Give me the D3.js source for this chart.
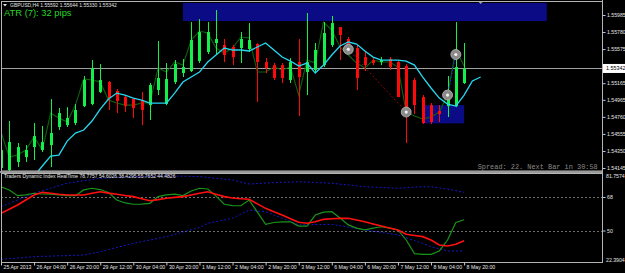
<!DOCTYPE html>
<html><head><meta charset="utf-8">
<script src="https://cdn.jsdelivr.net/npm/d3@7"></script>
<style>html,body{margin:0;padding:0;background:#000;overflow:hidden}svg{display:block}</style>
</head><body><svg id="c" width="625" height="273"></svg>
<script>
// ---------- data ----------
const timeLabels = ["25 Apr 2013","26 Apr 04:00","26 Apr 20:00","29 Apr 12:00","30 Apr 04:00","30 Apr 20:00","1 May 12:00","2 May 04:00","2 May 20:00","3 May 12:00","6 May 04:00","6 May 20:00","7 May 12:00","8 May 04:00","8 May 20:00"];
const openP  = [1.54144,1.54120,1.54217,1.54277,1.54397,1.54361,1.54421,1.54638,1.54661,1.54686,1.54889,1.54914,1.55058,1.55179,1.55071,1.54998,1.54974,1.54962,1.54901,1.55083,1.54914,1.55179,1.55287,1.55311,1.55431,1.55540,1.55648,1.55624,1.55600,1.55588,1.55576,1.55636,1.55419,1.55383,1.55383,1.55203,1.55419,1.55299,1.55324,1.55383,1.55624,1.55840,1.55696,1.55588,1.55479,1.55443,1.55419,1.55455,1.55419,1.55371,1.55203,1.54998,1.54901,1.54830,1.54889,1.54889,1.55167];
const highP  = [1.54421,1.54710,1.54445,1.54421,1.54686,1.54650,1.54974,1.54866,1.54877,1.54914,1.55251,1.55443,1.55395,1.55191,1.55095,1.55022,1.54986,1.55058,1.55167,1.55672,1.55407,1.55443,1.55455,1.55900,1.55936,1.55900,1.56045,1.55696,1.55624,1.55780,1.55888,1.55648,1.55467,1.55407,1.55407,1.55467,1.55696,1.56009,1.55648,1.55900,1.55973,1.55840,1.55720,1.55624,1.55540,1.55467,1.55479,1.55479,1.55431,1.55395,1.55227,1.55022,1.54926,1.54901,1.55251,1.55900,1.55648];
const lowP   = [1.54108,1.54108,1.54157,1.54217,1.54241,1.54337,1.54157,1.54602,1.54638,1.54661,1.54877,1.54901,1.55046,1.54842,1.54806,1.54818,1.54746,1.54661,1.54722,1.55022,1.54901,1.55155,1.55239,1.55299,1.55407,1.55516,1.55504,1.55419,1.55383,1.55407,1.55540,1.54938,1.55287,1.55203,1.55167,1.55167,1.54770,1.55022,1.55287,1.55359,1.55600,1.55443,1.55528,1.55083,1.55311,1.55383,1.55383,1.55324,1.54998,1.54445,1.54794,1.54674,1.54674,1.54698,1.54758,1.54877,1.55155];
const closeP = [1.54361,1.54457,1.54397,1.54361,1.54529,1.54457,1.54565,1.54806,1.54746,1.54842,1.55203,1.55347,1.55203,1.54986,1.54950,1.54889,1.54866,1.54842,1.55143,1.55227,1.55215,1.55395,1.55359,1.55684,1.55780,1.55780,1.55696,1.55504,1.55479,1.55696,1.55684,1.55419,1.55347,1.55227,1.55227,1.55419,1.55239,1.55419,1.55564,1.55768,1.55888,1.55744,1.55564,1.55227,1.55383,1.55407,1.55443,1.55359,1.54998,1.54806,1.54901,1.54686,1.54698,1.54794,1.55010,1.55359,1.55342];
const darkLine = [1.54577,1.54277,1.54301,1.54361,1.54517,1.54361,1.54806,1.54746,1.54698,1.54901,1.55215,1.55203,1.55179,1.54962,1.54926,1.54901,1.54901,1.54926,1.54926,1.55347,1.55299,1.55419,1.55383,1.55684,1.55792,1.55768,1.55588,1.55528,1.55588,1.55720,1.55708,1.55299,1.55299,1.55359,1.55324,1.55359,1.55022,1.55443,1.55407,1.55900,1.55804,1.55600,1.55504,1.55407,1.55347,1.55443,1.55419,1.55419,1.55359,1.54818,1.54770,1.54734,1.54758,1.54818,1.55022,1.55564,1.55371];
const maStart = 4;
const maCyan = [1.54048,1.54169,1.54289,1.54301,1.54469,1.54565,1.54602,1.54710,1.54854,1.54974,1.55046,1.55022,1.54986,1.54962,1.54926,1.54926,1.54926,1.55046,1.55179,1.55239,1.55299,1.55419,1.55504,1.55588,1.55564,1.55564,1.55552,1.55600,1.55648,1.55564,1.55479,1.55431,1.55371,1.55407,1.55287,1.55383,1.55504,1.55612,1.55660,1.55636,1.55552,1.55479,1.55443,1.55443,1.55443,1.55431,1.55383,1.55239,1.55107,1.54986,1.54914,1.54889,1.55022,1.55191,1.55239];
const currentPrice = 1.55342;
const priceTicks = [1.55985,1.55780,1.55575,1.55165,1.54965,1.54760,1.54555,1.54350,1.54145];
const zoneFrom = [22, 51], zoneTo = [66, 56], zoneHi = [1.56129, 1.54901], zoneLo = [1.55912, 1.54682];
const markBar = [42, 49, 54, 55], markPrice = [1.55572, 1.54818, 1.55022, 1.55510];
// TDI
const tdiGreen = [73.5,71.8,68.7,69.1,70.0,69.6,69.5,69.1,68.7,68.7,71.8,72.7,72.0,70.4,66.4,64.8,64.1,64.2,64.6,68.2,69.1,69.5,68.8,71.2,72.7,72.3,68.5,64.1,63.4,63.3,66.4,59.9,53.3,54.3,54.6,54.7,52.4,52.4,58.3,59.9,60.1,56.7,53.0,51.3,50.3,51.3,52.0,51.3,50.3,44.9,37.6,37.2,37.2,39.0,44.9,54.3,55.77];
const tdiRed   = [59.2,61.4,63.7,66.4,69.1,70.5,70.0,69.5,69.1,69.1,69.1,70.0,70.8,70.1,69.5,68.8,68.2,67.1,66.0,66.6,67.3,67.8,68.2,69.1,70.0,70.8,69.5,68.2,67.5,67.1,66.8,64.3,61.9,60.1,58.3,56.3,54.4,53.9,54.7,56.0,56.3,56.5,56.6,55.6,54.7,53.5,52.4,51.3,50.3,48.0,47.3,46.7,44.9,42.2,41.7,42.6,44.48];
const tdiUpper = [62.8,64.6,66.4,68.2,70.0,71.4,72.7,74.1,75.4,76.1,76.7,77.4,78.0,78.2,78.5,78.7,78.9,79.0,79.1,79.2,79.3,79.2,79.2,79.1,79.0,78.5,78.0,77.6,77.1,76.0,75.0,75.2,75.5,75.7,75.9,76.0,76.2,76.0,75.8,75.6,75.4,74.9,74.5,74.0,73.5,73.3,73.1,72.9,72.7,73.0,73.3,73.5,73.5,72.9,72.3,71.4,70.5];
const tdiLower = [34.5,34.9,35.2,35.6,35.9,36.1,36.2,36.4,36.5,36.7,36.8,37.7,38.6,39.7,40.9,42.0,43.1,44.0,44.9,45.8,46.7,47.9,49.2,50.4,51.6,53.9,54.8,55.7,56.6,58.8,61.0,60.5,60.1,58.3,56.6,54.8,53.0,53.1,53.2,53.2,53.3,52.6,51.8,51.1,50.3,49.6,49.0,48.3,47.6,46.1,44.6,43.1,41.3,40.2,39.0,39.0,39.0];
const tdiLevels = [68, 50];
const tdiMax = "81.7574", tdiMin = "22.3904";
const tdiTitle = "Traders Dynamic Index RealTime 78.7757 54.6026 38.4295 55.7652 44.4826";
const headerText = "GBPUSD,H4  1.55592 1.55644 1.55330 1.55342";
const atrText = "ATR (7): 32 pips";
const spreadText = "Spread: 22. Next Bar in 30:58";

// ---------- layout ----------
const svg = d3.select('#c');
svg.append('rect').attr('width',625).attr('height',273).attr('fill','#000');
const L = 1, R = 602, mainTop = 1, mainBot = 171, tdiTop = 173, tdiBot = 262;
const x = d3.scaleLinear().domain([0, 56]).range([1, 464.1]);
const y = d3.scaleLinear().domain([1.54145, 1.55985]).range([168, 15]);
const ty = d3.scaleLinear().domain([50, 68]).range([230.5, 197]);

const defs = svg.append('defs');
defs.append('clipPath').attr('id','cm').append('rect').attr('x',L).attr('y',mainTop).attr('width',R-L).attr('height',mainBot-mainTop);
defs.append('clipPath').attr('id','ct').append('rect').attr('x',L).attr('y',tdiTop).attr('width',R-L).attr('height',tdiBot-tdiTop);

const gm = svg.append('g').attr('clip-path','url(#cm)');
// zones
gm.selectAll('rect.zone').data(zoneFrom).join('rect').attr('class','zone')
  .attr('x',(d)=>x(d)).attr('width',(d,i)=>x(zoneTo[i])-x(d))
  .attr('y',(d,i)=>y(zoneHi[i])).attr('height',(d,i)=>y(zoneLo[i])-y(zoneHi[i]))
  .attr('fill','#0b0b86');
// current price line
gm.append('line').attr('x1',L).attr('x2',R).attr('y1',Math.round(y(currentPrice))+0.5).attr('y2',Math.round(y(currentPrice))+0.5)
  .attr('stroke','#a0a0a0').attr('stroke-width',1);
// dark green line
const idx = d3.range(closeP.length);
gm.append('path').datum(idx).attr('fill','none').attr('stroke','#0c640c').attr('stroke-width',1.1)
  .attr('d', d3.line().x(i=>x(i)).y(i=>y(darkLine[i])));
// candles
const cg = gm.append('g');
idx.forEach(i=>{
  const up = closeP[i] >= openP[i];
  const col = up ? '#14f04a' : '#ff0a0a';
  const xc = Math.round(x(i));
  cg.append('line').attr('x1',xc+0.5).attr('x2',xc+0.5).attr('y1',y(highP[i])).attr('y2',y(lowP[i])).attr('stroke',col).attr('stroke-width',1);
  const t = Math.min(y(openP[i]), y(closeP[i])), b = Math.max(y(openP[i]), y(closeP[i]));
  cg.append('rect').attr('x',xc-1).attr('width',3).attr('y',t).attr('height',Math.max(1,b-t)).attr('fill',col);
});
// cyan MA (shifted)
gm.append('path').datum(d3.range(maCyan.length)).attr('fill','none').attr('stroke','#26d8f2').attr('stroke-width',1.3)
  .attr('d', d3.line().x(k=>x(k+maStart)).y(k=>y(maCyan[k])));
// trend lines between markers
gm.append('line').attr('x1',x(markBar[0])).attr('y1',y(markPrice[0])).attr('x2',x(markBar[1])).attr('y2',y(markPrice[1]))
  .attr('stroke','#c00000').attr('stroke-dasharray','1.5,2.5').attr('stroke-width',1);
gm.append('line').attr('x1',x(markBar[2])).attr('y1',y(markPrice[2])).attr('x2',x(markBar[3])).attr('y2',y(markPrice[3]))
  .attr('stroke','#2020ff').attr('stroke-dasharray','1.5,2').attr('stroke-width',1);
// markers
markBar.forEach((b,i)=>{
  gm.append('circle').attr('cx',x(b)).attr('cy',y(markPrice[i])).attr('r',5).attr('fill','#8a8a8a').attr('stroke','#b8b8b8').attr('stroke-width',0.8);
  gm.append('circle').attr('cx',x(b)).attr('cy',y(markPrice[i])).attr('r',1.6).attr('fill','#f0f0f0');
});
// chart shift triangle
svg.append('path').attr('d',`M${x(58)-3},1 L${x(58)+3},1 L${x(58)},4 Z`).attr('fill','#a0a0a0');

// ---------- TDI ----------
const gt = svg.append('g').attr('clip-path','url(#ct)');
tdiLevels.forEach(v=>{
  gt.append('line').attr('x1',L).attr('x2',R).attr('y1',Math.round(ty(v))+0.5).attr('y2',Math.round(ty(v))+0.5)
    .attr('stroke','#8a8a8a').attr('stroke-dasharray','2,2').attr('stroke-width',0.8);
});
const tl = (arr)=>d3.line().x((d,i)=>x(i)).y(d=>ty(d))(arr);
gt.append('path').attr('d',tl(tdiUpper)).attr('fill','none').attr('stroke','#1818c8').attr('stroke-dasharray','2,2').attr('stroke-width',1);
gt.append('path').attr('d',tl(tdiLower)).attr('fill','none').attr('stroke','#1818c8').attr('stroke-dasharray','2,2').attr('stroke-width',1);
gt.append('path').attr('d',tl(tdiGreen)).attr('fill','none').attr('stroke','#189418').attr('stroke-width',1.2);
gt.append('path').attr('d',tl(tdiRed)).attr('fill','none').attr('stroke','#ff1010').attr('stroke-width',1.6);

// ---------- frames ----------
svg.append('rect').attr('x',L+0.5).attr('y',mainTop+0.5).attr('width',R-L).attr('height',mainBot-mainTop-0.5).attr('fill','none').attr('stroke','#b4b4b4').attr('stroke-width',1);
svg.append('rect').attr('x',0).attr('y',mainBot).attr('width',R+1).attr('height',2).attr('fill','#9a9a9a');
svg.append('rect').attr('x',L+0.5).attr('y',tdiTop+0.5).attr('width',R-L).attr('height',tdiBot-tdiTop).attr('fill','none').attr('stroke','#b4b4b4').attr('stroke-width',1);

// ---------- axes ----------
const font = 'Liberation Sans, Arial, sans-serif';
const ay = svg.append('g').attr('transform',`translate(${R+0.5},0)`)
  .call(d3.axisRight(y).tickValues(priceTicks).tickFormat(d3.format('.5f')).tickSize(3).tickPadding(1.5));
ay.select('.domain').remove();
ay.selectAll('line').attr('stroke','#c8c8c8');
ay.selectAll('text').attr('fill','#e6e6e6').attr('font-family',font).attr('font-size',5.2);
// current price tag
const cp = y(currentPrice);
svg.append('rect').attr('x',R+1).attr('y',cp-4.5).attr('width',22).attr('height',9).attr('fill','#ffffff');
svg.append('text').attr('x',R+4).attr('y',cp+2).attr('fill','#000').attr('font-family',font).attr('font-size',5.4).text(d3.format('.5f')(currentPrice));

const at = svg.append('g').attr('transform',`translate(${R+0.5},0)`)
  .call(d3.axisRight(ty).tickValues(tdiLevels).tickFormat(d3.format('d')).tickSize(3).tickPadding(1.5));
at.select('.domain').remove();
at.selectAll('line').attr('stroke','#c8c8c8');
at.selectAll('text').attr('fill','#e6e6e6').attr('font-family',font).attr('font-size',5.2);
svg.append('text').attr('x',R+4).attr('y',tdiTop+5).attr('fill','#e6e6e6').attr('font-family',font).attr('font-size',5.2).text(tdiMax);
svg.append('text').attr('x',R+4).attr('y',tdiBot).attr('fill','#e6e6e6').attr('font-family',font).attr('font-size',5.2).text(tdiMin);

const ax = svg.append('g').attr('transform',`translate(0,${tdiBot+0.5})`)
  .call(d3.axisBottom(x).tickValues(d3.range(0,57,4)).tickFormat((d,i)=>timeLabels[i]).tickSize(3).tickPadding(1));
ax.select('.domain').remove();
ax.selectAll('line').attr('stroke','#c8c8c8');
ax.selectAll('text').attr('fill','#e6e6e6').attr('font-family',font).attr('font-size',5.2).attr('text-anchor','start').attr('dx',2).attr('dy','0.4em');
svg.append('line').attr('x1',R+0.5).attr('x2',R+0.5).attr('y1',0).attr('y2',tdiBot+1).attr('stroke','#b4b4b4');

// ---------- texts ----------
svg.append('path').attr('d','M3,4 L7,4 L5,6.5 Z').attr('fill','#e0e0e0');
svg.append('text').attr('x',10).attr('y',7).attr('fill','#e0e0e0').attr('font-family',font).attr('font-size',5).text(headerText);
svg.append('text').attr('x',4).attr('y',16).attr('fill','#26d426').attr('font-family',font).attr('font-size',9.4).text(atrText);
svg.append('text').attr('x',4).attr('y',tdiTop+5).attr('fill','#e6e6e6').attr('font-family',font).attr('font-size',5).text(tdiTitle);
svg.append('text').attr('x',477.7).attr('y',169).attr('fill','#8a8a8a').attr('font-family','Liberation Mono, Courier New, monospace')
  .attr('font-size',7.5).attr('textLength',120).attr('lengthAdjust','spacingAndGlyphs').text(spreadText);
</script></body></html>
